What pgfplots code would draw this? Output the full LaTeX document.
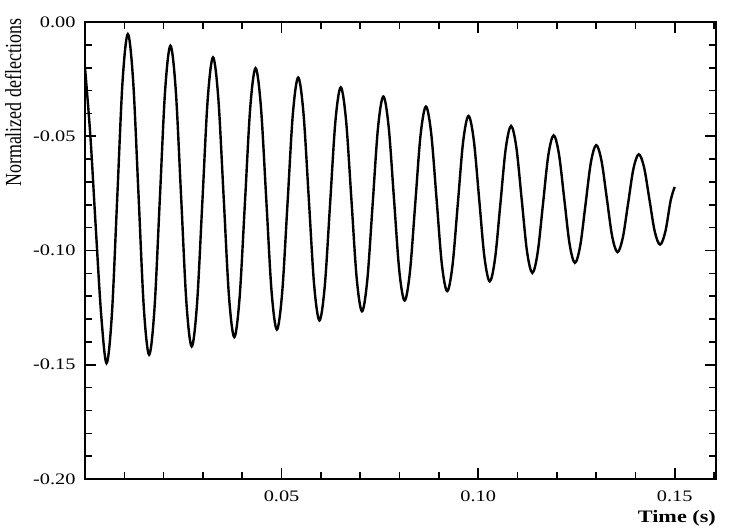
\documentclass[border=0pt]{standalone}
\usepackage{fontspec}
\setmainfont{Liberation Serif}[FakeStretch=1.27]
\newfontfamily\ylabfont{Liberation Serif}[FakeStretch=0.78]
\usepackage{pgfplots}
\pgfplotsset{compat=1.18}
\usepackage{pgfplotstable}
\pgfplotstableread{
t v
0.00000 -0.0200
0.00137 -0.0500
0.00274 -0.0900
0.00411 -0.1280
0.00548 -0.1493
0.00683 -0.1282
0.00819 -0.0773
0.00954 -0.0264
0.01090 -0.0053
0.01225 -0.0259
0.01361 -0.0755
0.01496 -0.1250
0.01631 -0.1456
0.01766 -0.1258
0.01902 -0.0780
0.02037 -0.0302
0.02173 -0.0104
0.02308 -0.0297
0.02444 -0.0762
0.02579 -0.1227
0.02714 -0.1420
0.02849 -0.1235
0.02985 -0.0788
0.03120 -0.0341
0.03256 -0.0155
0.03391 -0.0334
0.03527 -0.0767
0.03662 -0.1200
0.03797 -0.1379
0.03932 -0.1207
0.04068 -0.0791
0.04203 -0.0375
0.04339 -0.0202
0.04474 -0.0370
0.04610 -0.0774
0.04745 -0.1178
0.04880 -0.1346
0.05015 -0.1185
0.05151 -0.0795
0.05286 -0.0405
0.05422 -0.0243
0.05557 -0.0399
0.05693 -0.0775
0.05828 -0.1150
0.05963 -0.1306
0.06098 -0.1157
0.06234 -0.0796
0.06369 -0.0435
0.06505 -0.0286
0.06640 -0.0430
0.06776 -0.0776
0.06911 -0.1122
0.07046 -0.1266
0.07181 -0.1128
0.07317 -0.0796
0.07452 -0.0464
0.07588 -0.0326
0.07723 -0.0457
0.07859 -0.0773
0.07994 -0.1088
0.08129 -0.1219
0.08264 -0.1095
0.08400 -0.0795
0.08535 -0.0495
0.08671 -0.0370
0.08806 -0.0488
0.08942 -0.0774
0.09077 -0.1060
0.09212 -0.1178
0.09347 -0.1066
0.09483 -0.0795
0.09618 -0.0524
0.09754 -0.0411
0.09889 -0.0517
0.10025 -0.0773
0.10160 -0.1029
0.10295 -0.1135
0.10430 -0.1035
0.10566 -0.0795
0.10701 -0.0555
0.10837 -0.0455
0.10972 -0.0549
0.11108 -0.0777
0.11243 -0.1004
0.11378 -0.1098
0.11513 -0.1010
0.11649 -0.0797
0.11784 -0.0584
0.11920 -0.0496
0.12055 -0.0578
0.12191 -0.0775
0.12326 -0.0972
0.12461 -0.1054
0.12596 -0.0979
0.12732 -0.0797
0.12867 -0.0615
0.13003 -0.0539
0.13138 -0.0608
0.13274 -0.0773
0.13409 -0.0938
0.13544 -0.1007
0.13679 -0.0944
0.13815 -0.0793
0.13950 -0.0642
0.14086 -0.0579
0.14221 -0.0637
0.14357 -0.0777
0.14492 -0.0917
0.14627 -0.0974
0.14762 -0.0917
0.14898 -0.0780
0.15000 -0.0722
}\deflection
\begin{document}
\begin{tikzpicture}
\useasboundingbox (0pt,0pt) rectangle (741pt,-528pt);
\begin{axis}[
  at={(85pt,-479pt)}, anchor=south west,
  scale only axis, width=631pt, height=457pt,
  xmin=0, xmax=0.1605, ymin=-0.20, ymax=0,
  xtick={0.05,0.10,0.15},
  ytick={-0.20,-0.15,-0.10,-0.05,0},
  minor xtick={0.01,0.02,0.03,0.04,0.06,0.07,0.08,0.09,0.11,0.12,0.13,0.14,0.16},
  minor ytick={-0.19,-0.18,-0.17,-0.16,-0.14,-0.13,-0.12,-0.11,-0.09,-0.08,-0.07,-0.06,-0.04,-0.03,-0.02,-0.01},
  tick align=inside,
  major tick length=11pt, minor tick length=7pt,
  tick style={line width=1.6pt, black},
  axis line style={line width=2.6pt},
  scaled ticks=false,
  /pgf/number format/assume math mode=true,
  xticklabel={\pgfmathprintnumber[fixed,fixed zerofill,precision=2]{\tick}},
  yticklabel={\pgfmathprintnumber[fixed,fixed zerofill,precision=2]{\tick}},
  ticklabel style={font=\fontsize{16}{19}\selectfont},
  xticklabel style={yshift=-8pt},
  yticklabel style={xshift=-6pt},
  xlabel={Time (s)},
  xlabel style={at={(axis description cs:0.938,-0.085)}, anchor=center, font=\fontsize{17.5}{20}\selectfont\bfseries},
  ylabel={Normalized deflections},
  ylabel style={at={(axis description cs:-0.114,0.823)}, anchor=center, font=\fontsize{23}{26}\selectfont\ylabfont},
]
\addplot[black, line width=2.4pt, smooth, tension=0.55] table[x=t, y=v] {\deflection};
\end{axis}
\end{tikzpicture}
\end{document}
